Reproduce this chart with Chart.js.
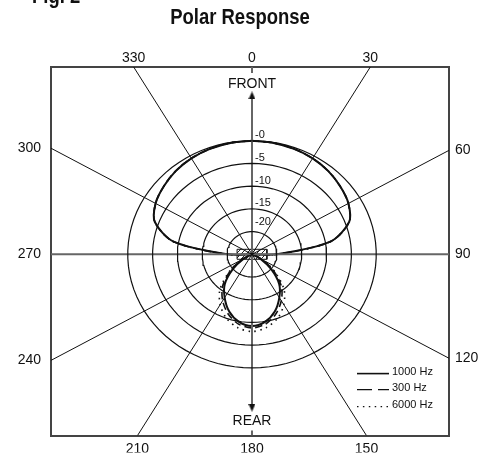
<!DOCTYPE html>
<html><head><meta charset="utf-8">
<script src="https://cdn.jsdelivr.net/npm/chart.js@4.4.1/dist/chart.umd.min.js"></script>
<style>
html,body{margin:0;padding:0;background:#fff;overflow:hidden}
#wrap{position:relative;width:490px;height:454px}
canvas{display:block}
.ttl{position:absolute;font-family:"Liberation Sans",Arial,sans-serif;font-weight:bold;font-size:22px;line-height:22px;color:#111;white-space:nowrap;transform:scaleX(0.84)}
#fig{left:32px;top:-15px;transform-origin:0 0}
#title{left:0;width:480px;text-align:center;top:6px;transform-origin:240px 0}
</style></head><body>
<div id="wrap">
<canvas id="c" width="490" height="454"></canvas>
<div class="ttl" id="fig">Fig. 2</div>
<div class="ttl" id="title">Polar Response</div>
</div>
<script>
// ---------------- data (dB relative to on-axis, angle in degrees) ----------------
const angles   = [0,10,20,30,40,50,60,70,80,90,100,110,120,130,140,150,160,170,180,190,200,210,220,230,240,250,260,270,280,290,300,310,320,330,340,350];
const resp1000 = [0,-0.1,-0.3,-0.6,-1.1,-1.8,-2.6,-4.2,-9,-20,-25,-25,-23,-20,-16.5,-14,-11.6,-9.9,-9.2,-9.9,-11.6,-14,-16.5,-20,-23,-25,-25,-20,-9,-4.2,-2.6,-1.8,-1.1,-0.6,-0.3,-0.1];
const resp300  = [0,-0.1,-0.3,-0.6,-1.1,-1.8,-2.6,-4.2,-9,-20,-25,-25,-22.5,-19.3,-15.8,-13.2,-11.0,-9.4,-8.8,-9.4,-11.0,-13.2,-15.8,-19.3,-22.5,-25,-25,-20,-9,-4.2,-2.6,-1.8,-1.1,-0.6,-0.3,-0.1];
const resp6000 = [0,-0.1,-0.3,-0.6,-1.1,-1.8,-2.6,-4.2,-9,-20,-25,-25,-22.5,-19,-15,-12.2,-10.0,-8.6,-8.0,-8.6,-10.0,-12.2,-15,-19,-22.5,-25,-25,-20,-9,-4.2,-2.6,-1.8,-1.1,-0.6,-0.3,-0.1];
const seriesNames  = ['1000 Hz','300 Hz','6000 Hz'];
const ringLevels   = [0,-5,-10,-15,-20];
const ringLabels   = ['-0','-5','-10','-15','-20'];
const spokeAngles  = [30,60,120,150,210,240,300,330];
const topAngles    = [330,0,30];   const topLabels    = ['330','0','30'];
const bottomAngles = [210,180,150]; const bottomLabels = ['210','180','150'];
const leftAngles   = [240,270,300]; const leftLabels   = ['240','270','300'];
const rightAngles  = [120,90,60];  const rightLabels  = ['120','90','60'];

// ---------------- geometry helpers ----------------
const DB_MIN = -25;                       // level at the centre of the plot
const X_MIN = -40.44, X_MAX = 39.64, Y_MIN = -39.91, Y_MAX = 41.23;
function pol(deg, db){ const r = Math.max(0, db - DB_MIN); const a = deg*Math.PI/180; return {x: r*Math.sin(a), y: r*Math.cos(a)}; }
function edge(deg){
  const a = deg*Math.PI/180, s = Math.sin(a), c = Math.cos(a); let t = Infinity;
  if (s > 1e-9) t = Math.min(t, X_MAX/s); if (s < -1e-9) t = Math.min(t, X_MIN/s);
  if (c > 1e-9) t = Math.min(t, Y_MAX/c); if (c < -1e-9) t = Math.min(t, Y_MIN/c);
  return {x: s*t, y: c*t};
}
function curve(vals){ const pts = angles.map((a,i)=>pol(a, vals[i])); pts.push(pts[0]); return pts; }

const canvas = document.getElementById('c');
const ctx2 = canvas.getContext('2d');
// hatch pattern for the microphone symbol
const pc = document.createElement('canvas'); pc.width = 5; pc.height = 5;
const pg = pc.getContext('2d'); pg.strokeStyle = '#222'; pg.lineWidth = 1;
pg.beginPath(); pg.moveTo(-1,6); pg.lineTo(6,-1); pg.stroke();
const hatch = ctx2.createPattern(pc, 'repeat');
// arrow heads
function arrow(up){ const c = document.createElement('canvas'); c.width = 7; c.height = 8; const g = c.getContext('2d');
  g.fillStyle = '#111'; g.beginPath(); if (up){ g.moveTo(3.5,0); g.lineTo(7,8); g.lineTo(0,8);} else { g.moveTo(3.5,8); g.lineTo(7,0); g.lineTo(0,0);} g.closePath(); g.fill(); return c; }

const datasets = [];
ringLevels.forEach(l => {
  const pts = []; for (let a = 0; a <= 360; a += 4) pts.push(pol(a, l));
  datasets.push({data: pts, borderColor: '#111', borderWidth: 1.2, tension: 0, pointRadius: 0});
});
spokeAngles.forEach(a => {
  datasets.push({data: [{x:0,y:0}, edge(a)], borderColor: '#111', borderWidth: 1, pointRadius: 0});
});
// centre lines
datasets.push({data: [{x:X_MIN,y:0},{x:X_MAX,y:0}], borderColor: '#666', borderWidth: 2, pointRadius: 0});
datasets.push({data: [{x:0,y:34.98},{x:0,y:-33.77}], borderColor: '#666', borderWidth: 2,
  pointRadius: 4, pointStyle: [arrow(true), arrow(false)], pointBorderWidth: 0});
datasets.push({data: [{x:0,y:Y_MAX},{x:0,y:39.9}], borderColor: '#666', borderWidth: 2, pointRadius: 0});
datasets.push({data: [{x:0,y:Y_MIN},{x:0,y:-38.8}], borderColor: '#666', borderWidth: 2, pointRadius: 0});
// microphone symbol
datasets.push({data: [{x:-3,y:1.1},{x:3,y:1.1},{x:3,y:-1.1},{x:-3,y:-1.1},{x:-3,y:1.1}], borderColor: '#111', borderWidth: 1,
  backgroundColor: hatch, fill: 'shape', pointRadius: 0});
// response curves
const styles = [ {dash: [], w: 2}, {dash: [7,4], w: 1.6}, {dash: [1.5,4.5], w: 1.6} ];
[resp1000, resp300, resp6000].forEach((v,i) => {
  datasets.push({label: seriesNames[i], data: curve(v), borderColor: '#111', borderWidth: styles[i].w,
    borderDash: styles[i].dash, tension: 0.3, pointRadius: 0, fill: false});
});
datasets.forEach(d => { d.showLine = true; d.xAxisID = 'x'; d.yAxisID = 'y'; });

function tickAxis(position, min, max, angs, labels, fixSize, pad){
  const horiz = position === 'top' || position === 'bottom';
  return {
    type: 'linear', position, min, max,
    afterBuildTicks: s => { s.ticks = angs.map(a => ({value: horiz ? edge(a).x : edge(a).y})); },
    afterFit: s => { if (horiz) s.height = fixSize; else s.width = fixSize; },
    ticks: {callback: (v,i) => labels[i], font: {family: '"Liberation Sans", Arial, sans-serif', size: 14}, color: '#111',
      padding: pad, autoSkip: false, maxRotation: 0, minRotation: 0},
    grid: {display: false, drawTicks: false},
    border: {display: true, color: '#444', width: 2}
  };
}

const textPlugin = {
  id: 'texts',
  afterDatasetsDraw(chart){
    const {ctx, chartArea: ca} = chart; const xs = chart.scales.x, ys = chart.scales.y;
    const x0 = xs.getPixelForValue(0);
    ctx.save(); ctx.fillStyle = '#111';
    ctx.font = '11px "Liberation Sans", Arial, sans-serif'; ctx.textAlign = 'left'; ctx.textBaseline = 'middle';
    ringLevels.forEach((l,i) => {
      const py = ys.getPixelForValue(l - DB_MIN) - (l === -20 ? 10 : 5.5);
      ctx.fillText(ringLabels[i], x0 + 3, py);
    });
    ctx.font = '14px "Liberation Sans", Arial, sans-serif'; ctx.textAlign = 'center';
    ctx.fillText('FRONT', x0, ca.top + 17);
    ctx.fillText('REAR', x0, ca.bottom - 14);
    // legend
    ctx.font = '11px "Liberation Sans", Arial, sans-serif'; ctx.textAlign = 'left';
    const lx0 = ca.right - 92, lx1 = ca.right - 60;
    const rows = [ca.bottom - 62, ca.bottom - 46, ca.bottom - 29];
    const ldash = [[], [15,6], [1.5,4.4]];
    seriesNames.forEach((n,i) => {
      ctx.setLineDash(ldash[i]); ctx.lineWidth = i === 0 ? 1.6 : 1.4; ctx.strokeStyle = '#111';
      ctx.beginPath(); ctx.moveTo(lx0, rows[i]); ctx.lineTo(lx1, rows[i]); ctx.stroke();
      ctx.setLineDash([]);
      ctx.fillText(n, ca.right - 57, rows[i] - 2);
    });
    ctx.restore();
  }
};

new Chart(canvas, {
  type: 'scatter',
  data: {datasets},
  plugins: [textPlugin],
  options: {
    responsive: false, animation: false, devicePixelRatio: 1,
    layout: {padding: 0},
    plugins: {legend: {display: false}, tooltip: {enabled: false}, title: {display: false}},
    elements: {point: {radius: 0}},
    scales: {
      x:  tickAxis('top', X_MIN, X_MAX, topAngles, topLabels, 67, 0),
      x2: tickAxis('bottom', X_MIN, X_MAX, bottomAngles, bottomLabels, 17, 5),
      y:  tickAxis('left', Y_MIN, Y_MAX, leftAngles, leftLabels, 51, 10),
      y2: tickAxis('right', Y_MIN, Y_MAX, rightAngles, rightLabels, 41, 6)
    }
  }
});
</script>
</body></html>
